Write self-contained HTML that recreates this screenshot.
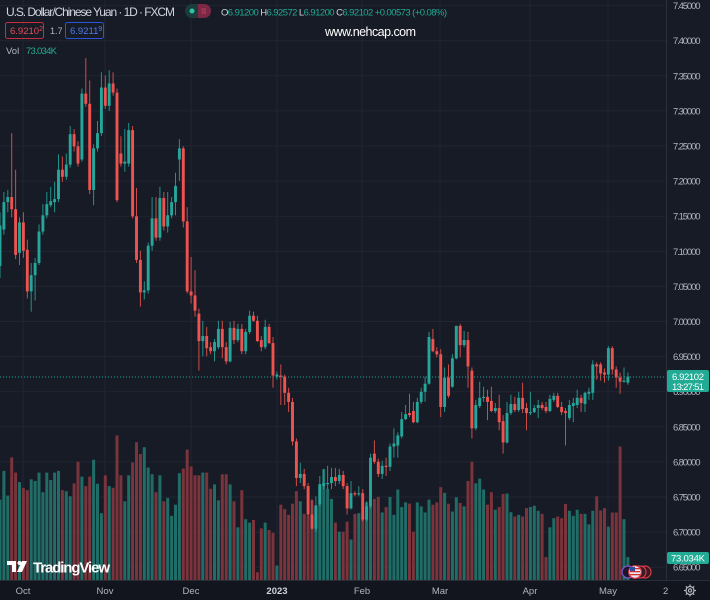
<!DOCTYPE html>
<html><head><meta charset="utf-8">
<style>
html,body{margin:0;padding:0;background:#171b26;width:710px;height:600px;overflow:hidden}
svg{display:block}
text{font-family:"Liberation Sans",sans-serif}
</style></head>
<body>
<svg id="s" width="710" height="600" viewBox="0 0 710 600" xmlns="http://www.w3.org/2000/svg">
<rect x="0" y="0" width="710" height="600" fill="#171b26"/>
<g id="grid"></g>
<g id="vol"></g>
<g id="cdl"></g>
<line x1="0" y1="377" x2="666" y2="377" stroke="#26a69a" stroke-width="1" stroke-dasharray="1,2"/>
<!-- price axis -->
<line x1="666.5" y1="0" x2="666.5" y2="581" stroke="#2a2e39" stroke-width="1"/>
<g id="pax" fill="#b2b5be" font-size="9.5"></g>
<!-- price label -->
<rect x="667" y="370" width="42" height="22" rx="2" fill="#22ab94"/>
<text x="672" y="380" fill="#ffffff" font-size="9.5" textLength="32">6.92102</text>
<text x="672" y="390" fill="#ffffff" font-size="9.5" textLength="32">13:27:51</text>
<rect x="667" y="552" width="42" height="12" rx="2" fill="#22ab94"/>
<text x="671" y="561.5" fill="#ffffff" font-size="9.5" textLength="34">73.034K</text>
<!-- time axis -->
<rect x="0" y="581" width="710" height="19" fill="#12151d"/>
<line x1="0" y1="580.5" x2="710" y2="580.5" stroke="#2a2e39" stroke-width="1"/>
<g fill="#b2b5be" font-size="9.5" text-anchor="middle">
<text x="23" y="594">Oct</text>
<text x="105" y="594">Nov</text>
<text x="191" y="594">Dec</text>
<text x="277" y="594" fill="#d1d4dc" font-weight="bold">2023</text>
<text x="362" y="594">Feb</text>
<text x="440" y="594">Mar</text>
<text x="530" y="594">Apr</text>
<text x="608" y="594">May</text>
</g>
<svg x="660" y="582" width="8" height="16"><text x="3" y="12" fill="#b2b5be" font-size="9.5">22</text></svg>
<!-- gear -->
<g transform="translate(690,590.5)" stroke="#b2b5be" stroke-width="1.2" fill="none">
<circle r="4"/><circle r="1.6"/>
<line x1="0" y1="-6" x2="0" y2="-4"/><line x1="0" y1="6" x2="0" y2="4"/>
<line x1="-6" y1="0" x2="-4" y2="0"/><line x1="6" y1="0" x2="4" y2="0"/>
<line x1="-4.2" y1="-4.2" x2="-2.8" y2="-2.8"/><line x1="4.2" y1="4.2" x2="2.8" y2="2.8"/>
<line x1="-4.2" y1="4.2" x2="-2.8" y2="2.8"/><line x1="4.2" y1="-4.2" x2="2.8" y2="-2.8"/>
</g>
<!-- flags -->
<g>
<circle cx="645" cy="572" r="6" fill="#3a1a22" stroke="#e0384a" stroke-width="1.2"/>
<circle cx="640" cy="572" r="6" fill="#3a1a22" stroke="#e0384a" stroke-width="1.2"/>
<circle cx="628" cy="572" r="6" fill="#1c1530" stroke="#7e57c2" stroke-width="1.3"/>
<circle cx="635" cy="572" r="6.3" fill="#e8e8f0" stroke="#e0384a" stroke-width="1.2"/>
<rect x="630" y="568" width="10" height="1.3" fill="#d32f2f"/>
<rect x="630" y="571" width="10" height="1.3" fill="#d32f2f"/>
<rect x="630" y="574" width="10" height="1.3" fill="#d32f2f"/>
<rect x="630" y="567" width="5" height="4" fill="#2a4ea0"/>
</g>
<!-- logo -->
<g fill="#ffffff">
<path d="M7 561 h9 v11 h-4 v-7 h-5 z"/>
<circle cx="19.5" cy="563" r="2"/>
<path d="M22 561 h5 l-5 11 h-5 z"/>
</g>
<text x="33" y="572.5" fill="#ffffff" font-size="15" font-weight="bold" textLength="77">TradingView</text>
<!-- header -->
<text x="6" y="16" fill="#d1d4dc" font-size="12" textLength="169">U.S. Dollar/Chinese Yuan · 1D · FXCM</text>
<rect x="185" y="4" width="26" height="14" rx="7" fill="#1d3b3a"/>
<path d="M198 4 h6 a7 7 0 0 1 0 14 h-6 z" fill="#7a2843"/>
<circle cx="192" cy="11" r="2.5" fill="#26c6a6"/>
<g stroke="#c2456a" stroke-width="0.9"><line x1="201.5" y1="9" x2="206" y2="9"/><line x1="201.5" y1="11" x2="206" y2="11"/><line x1="201.5" y1="13" x2="206" y2="13"/></g>
<text x="221" y="15.5" font-size="9.5" textLength="226" fill="#22ab94"><tspan fill="#d1d4dc">O</tspan>6.91200 <tspan fill="#d1d4dc">H</tspan>6.92572 <tspan fill="#d1d4dc">L</tspan>6.91200 <tspan fill="#d1d4dc">C</tspan>6.92102 +0.00573 (+0.08%)</text>
<rect x="5.5" y="22.5" width="38" height="16" rx="2" fill="none" stroke="#c5303d" stroke-width="1"/>
<text x="10" y="34" fill="#e84a55" font-size="9.5">6.9210<tspan font-size="7" dy="-3">2</tspan></text>
<text x="50" y="34" fill="#b2b5be" font-size="9">1.7</text>
<rect x="65.5" y="22.5" width="38" height="16" rx="2" fill="none" stroke="#2a55d6" stroke-width="1"/>
<text x="70" y="34" fill="#4f7cf7" font-size="9.5">6.9211<tspan font-size="7" dy="-3">9</tspan></text>
<text x="325" y="36" fill="#ffffff" font-size="12.5" textLength="91">www.nehcap.com</text>
<text x="6" y="54" fill="#b2b5be" font-size="9.5">Vol</text>
<text x="26" y="54" fill="#22ab94" font-size="9.5" textLength="31">73.034K</text>
</svg>
<script>
(function(){
var NS="http://www.w3.org/2000/svg";
function el(p,t,a){var e=document.createElementNS(NS,t);for(var k in a)e.setAttribute(k,a[k]);p.appendChild(e);return e;}
var grid=document.getElementById("grid"),pax=document.getElementById("pax");
for(var i=0;i<=16;i++){
  var p=7.45-i*0.05, y=5.6+i*35.1;
  el(grid,"line",{x1:0,y1:y,x2:666,y2:y,stroke:"#212531","stroke-width":1});
  var t=el(pax,"text",{x:673,y:y+3.5,textLength:27.5});t.textContent=p.toFixed(5);
}
[23,105,191,277,362,440,530,608].forEach(function(x){
  el(grid,"line",{x1:x,y1:0,x2:x,y2:581,stroke:"#212531","stroke-width":1});
});
var C=[
['G',223,263,210,275],['G',200,227,190,232],['G',195,200,188,210],['R',195,207,132,215],['R',207,252,168,256],
['G',220,250,215,262],['R',220,248,210,255],['R',247,288,237,295],['G',272,288,260,308],['G',260,272,255,297],
['G',229,260,222,262],['G',213,229,202,232],['G',202,213,190,216],['G',199,203,185,205],['G',197,200,180,210],
['G',168,197,153,200],['R',168,175,155,180],['G',163,175,152,178],['G',133,163,125,166],['R',133,145,128,150],
['R',145,162,140,165],['G',93,158,88,160],['R',93,103,58,106],['R',103,188,80,192],['G',147,188,143,203],
['G',132,147,120,150],['G',87,132,72,135],['R',87,105,75,108],['G',83,105,70,110],['R',83,92,72,95],
['R',92,198,88,200],['R',152,162,135,165],['G',160,162,128,170],['G',129,162,122,165],['R',129,214,125,216],
['R',214,257,186,260],['R',257,289,248,303],['G',287,289,278,296],['G',243,287,240,290],['G',216,243,195,248],
['R',216,235,195,238],['G',196,235,185,238],['R',196,224,190,228],['G',213,224,190,230],['G',200,213,195,216],
['G',184,200,171,213],['G',147,158,138,179],['R',147,219,145,225],['R',219,288,205,290],['R',288,292,254,300],
['R',292,307,267,313],['R',310,337,305,366],['G',332,337,317,352],['R',332,344,323,352],['R',343,347,338,350],
['G',338,347,335,357],['G',325,343,317,345],['R',325,343,317,354],['R',343,357,338,360],['G',324,357,318,358],
['R',324,336,317,340],['G',325,336,320,338],['R',325,347,320,350],['G',328,347,325,350],['G',312,328,307,330],
['R',312,317,308,318],['R',317,337,312,338],['R',336,343,332,347],['G',323,343,316,345],['R',323,339,320,340],
['R',339,371,333,383],['G',370,372,367,375],['R',371,372,360,400],['R',372,388,370,400],['R',388,397,383,407],
['R',397,436,393,440],['R',436,472,433,480],['G',468,472,457,477],['R',468,480,463,483],['R',480,508,477,510],
['R',508,522,493,523],['G',499,522,490,525],['G',478,498,470,500],['G',477,480,463,483],['G',477,478,460,483],
['G',471,477,462,483],['R',471,475,462,480],['G',469,475,463,478],['R',469,480,465,483],['R',480,502,477,508],
['G',487,502,475,503],['R',487,488,485,490],['G',487,488,480,490],['R',487,513,483,515],['G',500,513,495,515],
['G',452,500,448,502],['R',448,456,435,458],['R',456,468,453,471],['G',460,468,455,473],['R',460,461,452,470],
['G',441,461,438,465],['G',438,441,423,452],['G',430,440,427,452],['G',414,431,407,433],['G',409,414,400,415],
['R',408,410,389,412],['R',406,417,397,418],['G',397,417,393,418],['G',387,397,383,399],['G',379,387,372,397],
['G',333,379,328,380],['R',335,347,325,348],['R',347,350,343,353],['R',350,402,345,412],['G',373,402,363,407],
['R',373,391,360,393],['G',354,382,350,383],['G',322,354,322,355],['R',322,341,320,353],['G',336,341,327,343],
['R',336,362,328,383],['R',366,423,363,433],['G',400,423,395,425],['G',393,401,377,403],['G',392,393,382,397],
['R',392,397,385,415],['R',396,406,382,407],['G',403,406,398,408],['R',403,417,390,425],['R',416,437,410,448],
['G',408,437,397,438],['G',399,408,390,410],['R',399,405,392,407],['G',393,405,387,407],['R',393,404,378,408],
['R',403,408,398,425],['G',407,408,387,410],['G',403,407,400,408],['G',400,403,395,413],['R',400,403,397,405],
['R',402,406,397,408],['G',394,406,390,407],['G',391,395,388,397],['R',391,402,388,403],['R',402,407,397,410],
['R',406,408,403,440],['G',400,413,395,415],['G',398,401,393,417],['G',393,400,385,403],['R',393,398,390,407],
['G',388,399,387,407],['G',387,389,383,395],['G',360,388,356,395],['R',360,362,358,375],['R',360,369,358,376],
['R',368,370,364,378],['G',344,370,342,376],['R',344,365,342,370],['R',365,373,362,383],['R',373,377,368,389],
['G',376,377,363,378],['G',372,378,368,380]
];
var V=[1330,1245,1318,1205,1250,1278,1295,1302,1270,1275,1250,1308,1250,1272,1250,1245,1302,1305,1320,1282,1218,1262,1290,1262,1212,1283,1370,1258,1290,1295,1140,1258,1335,1258,1220,1160,1195,1175,1235,1255,1308,
1258,1335,1325,1378,1345,1252,1238,1182,1232,1258,1258,1250,1250,1298,1285,1332,1255,1255,1285,1335,1412,1302,1388,1398,1390,1545,1415,1398,1420,1428,1525,1345,1358,1375,1342,1305,1335,1372,1378,1332,1352,
1290,1240,1298,1328,1398,1425,1425,1395,1448,1372,1370,1380,1338,1348,1328,1322,1368,1352,1322,1375,1300,1352,1338,1342,1425,1338,1350,1368,1330,1345,1338,1293,1310,1342,1365,1323,1340,1350,1275,1218,1282,
1268,1300,1345,1308,1360,1352,1313,1312,1367,1380,1375,1380,1355,1352,1348,1363,1372,1500,1412,1385,1380,1385,1343,1363,1378,1360,1372,1372,1403,1363,1320,1362,1355,1410,1368,1368,1173,1388,1500];
function T(v){return 50+(v-50)*1.0142;}
var vol=document.getElementById("vol"),cdl=document.getElementById("cdl");
for(var k=0;k<C.length;k++){
  var c=C[k],x=3.9*k,g=c[0]==='G';
  var vt=50+V[k]/2.958;
  el(vol,"rect",{x:(x-1.5).toFixed(2),y:vt.toFixed(2),width:3,height:(581-vt).toFixed(2),fill:g?"#1f6d66":"#7b333c"});
  var col=g?"#26a69a":"#ef5350";
  var wt=T(c[3]),wb=T(c[4]),bt=T(c[1]),bb=T(c[2]);
  el(cdl,"rect",{x:(x-0.5).toFixed(2),y:wt.toFixed(2),width:1,height:Math.max(1,wb-wt).toFixed(2),fill:col,opacity:0.85});
  el(cdl,"rect",{x:(x-1.45).toFixed(2),y:bt.toFixed(2),width:2.9,height:Math.max(1.2,bb-bt).toFixed(2),fill:col});
}
})();
</script>
</body></html>
